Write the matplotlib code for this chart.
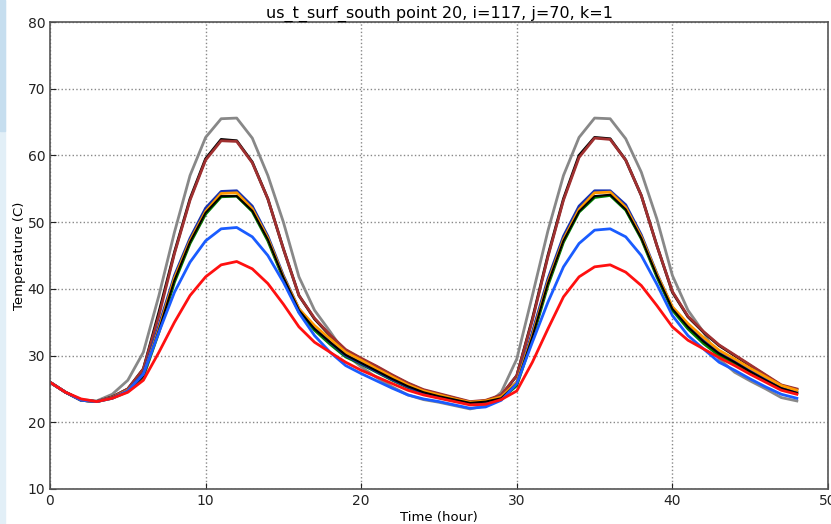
import matplotlib
matplotlib.use("Agg")
import matplotlib.pyplot as plt
import numpy as np

hours = list(range(49))

gray = [26, 24.5, 23.4, 23.2, 24.2, 26.3, 30.5, 39, 48.5, 57, 62.7, 65.5, 65.6, 62.6, 57, 50, 41.8, 36.8, 33.6, 30.2,
        28.3, 26.7, 25.3, 24.1, 23.4, 23.0, 22.5, 22.0, 22.5, 24.5, 29.5, 39, 48.7, 57, 62.7, 65.6, 65.5, 62.5, 57.5, 50.5,
        42, 36.8, 33.5, 29.5, 27.5, 26.2, 25.0, 23.7, 23.2]
black1 = [26, 24.5, 23.3, 23.1, 23.8, 25.0, 28.0, 36.5, 45.5, 53.5, 59.5, 62.4, 62.2, 59, 53.5, 46, 39, 35.5, 33, 30.8,
          29.5, 28.3, 27.0, 25.8, 24.8, 24.2, 23.6, 23.0, 23.2, 24.0, 27.0, 35.5, 45, 53.5, 60.0, 62.7, 62.5, 59.3, 54, 46.5,
          39.5, 35.8, 33.5, 31.5, 30.0, 28.5, 27.0, 25.5, 24.9]
brown = [26, 24.5, 23.3, 23.1, 23.8, 25.0, 28.0, 36.0, 45.3, 53.3, 59.3, 62.2, 62.1, 58.9, 53.5, 46, 39, 35.6, 33.1, 30.9,
         29.6, 28.4, 27.1, 25.9, 24.9, 24.3, 23.7, 23.1, 23.3, 24.1, 27.0, 35.3, 44.8, 53.3, 59.7, 62.6, 62.4, 59.3, 54, 46.5,
         39.6, 35.9, 33.6, 31.6, 30.1, 28.6, 27.1, 25.6, 25.0]
darkblue = [26, 24.5, 23.3, 23.1, 23.7, 24.8, 27.3, 34.5, 42, 47.6, 52.1, 54.6, 54.7, 52.4, 47.9, 42, 37, 34.2, 32, 30,
            28.8, 27.6, 26.4, 25.3, 24.4, 23.8, 23.3, 22.8, 23.1, 23.7, 26.0, 33.5, 41.5, 47.9, 52.4, 54.7, 54.7, 52.6, 48.1, 42.3,
            37.2, 34.5, 32.3, 30.5, 29.2, 27.8, 26.5, 25.2, 24.5]
green = [26, 24.5, 23.3, 23.1, 23.6, 24.6, 26.8, 33.5, 41, 46.8, 51.2, 53.8, 53.9, 51.6, 47.2, 41.5, 36.5, 33.8, 31.7, 29.8,
         28.7, 27.5, 26.3, 25.2, 24.3, 23.7, 23.2, 22.8, 23.0, 23.5, 25.5, 32.5, 40.5, 47, 51.5, 53.7, 54.0, 51.8, 47.5, 41.8,
         36.8, 34.0, 31.8, 30.0, 28.8, 27.5, 26.2, 25.0, 24.3]
orange = [26, 24.5, 23.3, 23.1, 23.7, 24.8, 27.0, 34.0, 41.6, 47.2, 51.6, 54.3, 54.4, 52.0, 47.6, 41.8, 37.0, 34.5, 32.5, 30.5,
          29.3, 28.0, 26.8, 25.6, 24.7, 24.1, 23.5, 23.0, 23.2, 23.8, 26.0, 33.0, 41.0, 47.4, 51.9, 54.4, 54.5, 52.2, 47.8, 42.2,
          37.3, 34.8, 32.7, 30.8, 29.5, 28.1, 26.8, 25.5, 24.8]
black2 = [26, 24.5, 23.3, 23.1, 23.7, 24.7, 26.9, 33.8, 41.3, 47.0, 51.4, 53.9, 53.9, 51.7, 47.4, 41.7, 36.8, 34.0, 32.0, 30.1,
          28.9, 27.7, 26.5, 25.4, 24.5, 23.9, 23.4, 22.9, 23.1, 23.6, 25.8, 32.8, 40.8, 47.2, 51.6, 53.9, 54.1, 51.9, 47.6, 42.0,
          37.0, 34.3, 32.1, 30.3, 29.0, 27.6, 26.3, 25.1, 24.4]
blue = [26, 24.5, 23.3, 23.1, 23.6, 24.7, 27.2, 33.5, 39.5, 44, 47.2, 49.0, 49.2, 47.8, 45, 41, 36.4, 33.0, 30.5, 28.5,
        27.3, 26.2, 25.1, 24.1, 23.5, 23.1, 22.6, 22.1, 22.3, 23.3, 25.8, 32.0, 38.0, 43.3, 46.8, 48.8, 49.0, 47.8, 45, 40.7,
        36.0, 33.0, 31.0, 29.0, 27.8, 26.5, 25.3, 24.2, 23.6]
red = [26, 24.5, 23.5, 23.1, 23.6, 24.5, 26.3, 30.5, 35, 39, 41.8, 43.6, 44.1, 43.0, 40.8, 37.7, 34.3, 32.0, 30.5, 29.0,
       27.8, 26.8, 25.8, 24.8, 24.1, 23.6, 23.1, 22.6, 22.7, 23.4, 24.7, 29.0, 34.0, 38.8, 41.8, 43.3, 43.6, 42.5, 40.5, 37.5,
       34.3, 32.3, 31.0, 29.7, 28.5, 27.2, 26.0, 24.8, 24.2]

series = [
    (gray, "#888888", 2.0),
    (black1, "#000000", 2.0),
    (brown, "#a03030", 2.0),
    (green, "#008000", 2.0),
    (darkblue, "#1530b0", 2.0),
    (orange, "#ff9900", 2.0),
    (black2, "#000000", 1.5),
    (blue, "#1a5cff", 2.0),
    (red, "#ff1010", 2.0),
]

fig = plt.figure(figsize=(8.31, 5.24), dpi=100)
fig.patches.append(plt.Rectangle((0, 0), 5 / 831, 1, transform=fig.transFigure,
                                 color="#e2eff7", zorder=0))
fig.patches.append(plt.Rectangle((0, 0.75), 5 / 831, 0.25, transform=fig.transFigure,
                                 color="#c6deef", zorder=0))
ax = fig.add_axes([50 / 831, 35 / 524, 778 / 831, 467 / 524])

for ys, c, lw in series:
    ax.plot(hours, ys, color=c, lw=lw)

ax.set_xlim(0, 50)
ax.set_ylim(10, 80)
ax.set_xticks([0, 10, 20, 30, 40, 50])
ax.set_yticks([10, 20, 30, 40, 50, 60, 70, 80])
ax.grid(True, linestyle=":", color="#888888", linewidth=1)
ax.tick_params(direction="in", labelsize=10, length=4, colors="#222222")
for s in ax.spines.values():
    s.set_color("#555555")
    s.set_linewidth(1.2)
ax.set_title("us_t_surf_south point 20, i=117, j=70, k=1", fontsize=11.5, pad=3)
ax.set_xlabel("Time (hour)", fontsize=9.5, labelpad=2)
ax.set_ylabel("Temperature (C)", fontsize=9.5, labelpad=1)

fig.savefig("out.png", dpi=100)
